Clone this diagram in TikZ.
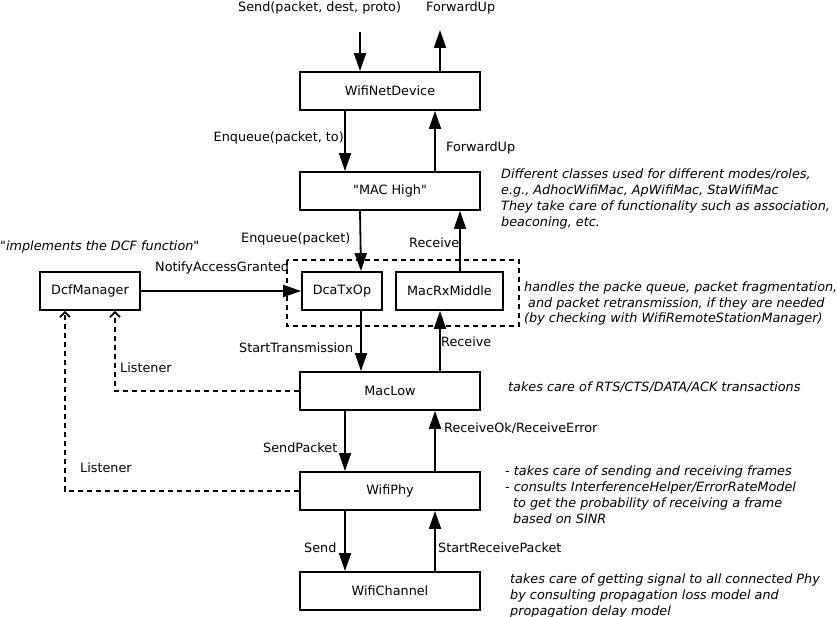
\documentclass[tikz,border=0pt]{standalone}
\usepackage{fontspec}
\newfontfamily\dv{DejaVu Sans}
\usetikzlibrary{arrows.meta}
\begin{document}
\begin{tikzpicture}[x=1pt,y=-1pt,
  every node/.style={font=\dv\fontsize{12.8}{16}\selectfont,inner sep=0pt},
  box/.style={draw,line width=1.8pt,minimum width=180pt,minimum height=38pt},
  lbl/.style={anchor=base west},
  note/.style={anchor=base west,align=left,font=\dv\fontsize{12.8}{16}\selectfont\itshape},
  arr/.style={line width=1.8pt,-{Triangle[length=18pt,width=12pt]}},
  dasharr/.style={line width=1.8pt,dash pattern=on 5pt off 4pt,-{Straight Barb[length=5pt,width=10pt,line width=1.8pt]}}]
\fill[white] (0,0) rectangle (837,617);
\useasboundingbox (0,0) rectangle (837,617);
% boxes
\node[box] (ND) at (390,91) {WifiNetDevice};
\node[box] (MH) at (390,191) {"MAC High"};
\node[box,minimum width=80pt] (DCA) at (342,291) {DcaTxOp};
\node[box,minimum width=107pt] (RX) at (449.5,291) {MacRxMiddle};
\node[box,minimum width=100pt] (DCF) at (90,291) {DcfManager};
\node[box] (ML) at (390,391) {MacLow};
\node[box] (PHY) at (390,491) {WifiPhy};
\node[box] (CH) at (390,591) {WifiChannel};
\draw[line width=1.8pt,dash pattern=on 5pt off 4pt] (287,260) rectangle (519,326);
% free ends
\coordinate (sendin) at (360,32);
\coordinate (fwdout) at (440,30);
\draw[arr] (sendin) -- (sendin |- ND.north);
\draw[arr] (fwdout |- ND.north) -- (fwdout);
\node[lbl] (tSend) at (238,12) {Send(packet, dest, proto)};
\node[lbl] (tFwd) at (426,12) {ForwardUp};
% ND <-> MH
\draw[arr] ([xshift=-45pt]ND.south) -- ([xshift=-45pt]MH.north);
\draw[arr] ([xshift=45pt]MH.north) -- ([xshift=45pt]ND.south);
\node[anchor=base east] (tEnq) at (344,142) {Enqueue(packet, to)};
\node[lbl] (tFwd2) at (446,152) {ForwardUp};
% MH <-> DCA / RX
\draw[arr] ([xshift=-30pt]MH.south) -- ([xshift=19pt]DCA.north);
\draw[arr] ([xshift=10.5pt]RX.north) -- ([xshift=10.5pt]RX.north |- MH.south);
\node[lbl] (tEnq2) at (241,243) {Enqueue(packet)};
\node[lbl] (tRec) at (409,248) {Receive};
% DCF -> DCA
\draw[arr] (DCF.east) -- (DCA.west);
\node[lbl] (tNot) at (155,272) {NotifyAccessGranted};
% DCA -> ML, ML -> RX
\draw[arr] ([xshift=19pt]DCA.south) -- ([xshift=19pt]DCA.south |- ML.north);
\draw[arr] ([xshift=50pt]ML.north) -- ([xshift=50pt]ML.north |- RX.south);
\node[lbl] (tStart) at (239,352) {StartTransmission};
\node[lbl] (tRec2) at (441,346) {Receive};
% listeners
\draw[dasharr] (ML.west) -| ([xshift=25pt]DCF.south);
\draw[dasharr] (PHY.west) -| ([xshift=-25pt]DCF.south);
\node[lbl] (tL1) at (120,372) {Listener};
\node[lbl] (tL2) at (80,472) {Listener};
% ML <-> PHY
\draw[arr] ([xshift=-45pt]ML.south) -- ([xshift=-45pt]PHY.north);
\draw[arr] ([xshift=45pt]PHY.north) -- ([xshift=45pt]ML.south);
\node[lbl] (tSP) at (263,452) {SendPacket};
\node[lbl] (tRO) at (444,432) {ReceiveOk/ReceiveError};
% PHY <-> CH
\draw[arr] ([xshift=-45pt]PHY.south) -- ([xshift=-45pt]CH.north);
\draw[arr] ([xshift=45pt]CH.north) -- ([xshift=45pt]PHY.south);
\node[lbl] (tS) at (304,552) {Send};
\node[lbl] (tSRP) at (438,552) {StartReceivePacket};
% notes (base anchor = last line baseline)
\node[note] (nDCF) at (0,251) {"implements the DCF function"};
\node[note] (nMH) at (501,227) {Different classes used for different modes/roles,\\e.g., AdhocWifiMac, ApWifiMac, StaWifiMac\\They take care of functionality such as association,\\beaconing, etc.};
\node[note] (nDCA) at (524,323) {handles the packe queue, packet fragmentation,\\\hspace*{4pt}and packet retransmission, if they are needed\\(by checking with WifiRemoteStationManager)};
\node[note] (nML) at (508,391) {takes care of RTS/CTS/DATA/ACK transactions};
\node[note] (nPHY) at (505,523) {- takes care of sending and receiving frames\\- consults InterferenceHelper/ErrorRateModel\\\hspace*{8pt}to get the probability of receiving a frame\\\hspace*{8pt}based on SINR};
\node[note] (nCH) at (510,615) {takes care of getting signal to all connected Phy\\by consulting propagation loss model and\\propagation delay model};
\end{tikzpicture}
\end{document}
